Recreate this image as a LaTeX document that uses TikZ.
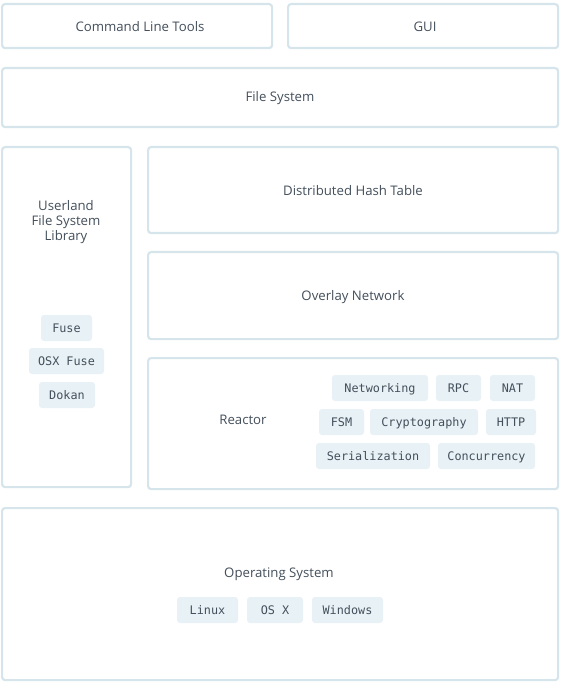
\documentclass[tikz,border=0pt]{standalone}
\usepackage{fontspec}
\setmainfont{Open Sans}
\newfontfamily\tagfont{DejaVu Sans Mono}
\definecolor{boxline}{HTML}{D6E4EB}
\definecolor{tagfill}{HTML}{E8F1F5}
\definecolor{txt}{HTML}{434F5B}
\begin{document}
\begin{tikzpicture}[x=1pt,y=-1pt,
  box/.style={draw=boxline,line width=2.2pt,rounded corners=3pt,anchor=north west,inner sep=0pt},
  lbl/.style={text=txt,font=\fontsize{13.2}{15}\selectfont,align=center,inner sep=0pt},
  tagbox/.style={fill=tagfill,rounded corners=3pt,text=txt,font=\tagfont\fontsize{11.8}{13}\selectfont,minimum height=26pt,inner xsep=0pt,inner ysep=0pt,text height=8.6pt,text depth=0pt}]
\useasboundingbox (0,0) rectangle (561,684);
% boxes
\node[box,minimum width=270pt,minimum height=44pt] (clt) at (1,3) {};
\node[box,minimum width=270pt,minimum height=44pt] (gui) at (287,3) {};
\node[box,minimum width=556pt,minimum height=59pt] (fs) at (1,67) {};
\node[box,minimum width=129pt,minimum height=340pt] (ufs) at (1,146) {};
\node[box,minimum width=410pt,minimum height=86pt] (dht) at (147,146) {};
\node[box,minimum width=410pt,minimum height=87pt] (ovl) at (147,251) {};
\node[box,minimum width=410pt,minimum height=131pt] (rea) at (147,357) {};
\node[box,minimum width=556pt,minimum height=172pt] (os) at (1,507) {};
% labels
\node[lbl] (tclt) at (140,27) {Command Line Tools};
\node[lbl] (tgui) at (425,27) {GUI};
\node[lbl] (tfs) at (280,98) {File System};
\node[lbl] (tufs) at (66,222.5) {Userland\\File System\\Library};
\node[lbl] (tdht) at (353,191) {Distributed Hash Table};
\node[lbl] (tovl) at (353,297) {Overlay Network};
\node[lbl] (trea) at (243,420) {Reactor};
\node[lbl] (tos) at (279,574) {Operating System};
% tags
\node[tagbox,minimum width=51pt] (fuse) at (66.5,328) {Fuse};
\node[tagbox,minimum width=75pt] (osxfuse) at (66.5,361) {OSX Fuse};
\node[tagbox,minimum width=56pt] (dokan) at (67,395) {Dokan};
\node[tagbox,minimum width=96pt] (net) at (380,388) {Networking};
\node[tagbox,minimum width=45pt] (rpc) at (458.5,388) {RPC};
\node[tagbox,minimum width=45pt] (nat) at (512.5,388) {NAT};
\node[tagbox,minimum width=45pt] (fsm) at (341.5,422) {FSM};
\node[tagbox,minimum width=108pt] (cry) at (424,422) {Cryptography};
\node[tagbox,minimum width=50pt] (http) at (511,422) {HTTP};
\node[tagbox,minimum width=114pt] (ser) at (373,456) {Serialization};
\node[tagbox,minimum width=97pt] (con) at (486.5,456) {Concurrency};
\node[tagbox,minimum width=61pt] (linux) at (207.5,610) {Linux};
\node[tagbox,minimum width=56pt] (osx) at (275,610) {OS X};
\node[tagbox,minimum width=71pt] (win) at (347.5,610) {Windows};
\end{tikzpicture}
\end{document}
